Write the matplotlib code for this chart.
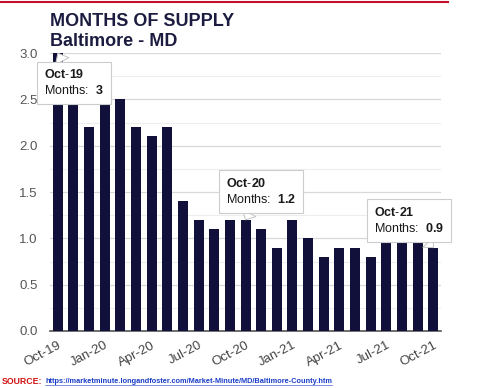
import numpy as np
import matplotlib.pyplot as plt
from matplotlib.lines import Line2D
from matplotlib.ticker import MultipleLocator

plt.rcParams['font.family'] = ['Liberation Sans', 'DejaVu Sans']
plt.rcParams['mathtext.fontset'] = 'custom'
plt.rcParams['mathtext.rm'] = 'Liberation Sans'
plt.rcParams['mathtext.bf'] = 'Liberation Sans:bold'

# monthly months-of-supply, Oct-19 .. Oct-21
months = ['Oct-19', 'Nov-19', 'Dec-19', 'Jan-20', 'Feb-20', 'Mar-20', 'Apr-20',
          'May-20', 'Jun-20', 'Jul-20', 'Aug-20', 'Sep-20', 'Oct-20', 'Nov-20',
          'Dec-20', 'Jan-21', 'Feb-21', 'Mar-21', 'Apr-21', 'May-21', 'Jun-21',
          'Jul-21', 'Aug-21', 'Sep-21', 'Oct-21']
supply = [3.0, 2.9, 2.2, 2.5, 2.5, 2.2, 2.1, 2.2, 1.4, 1.2, 1.1, 1.2, 1.2, 1.1,
          0.9, 1.2, 1.0, 0.8, 0.9, 0.9, 0.8, 1.0, 1.0, 1.0, 0.9]
callouts = ['Oct-19', 'Oct-20', 'Oct-21']

navy = '#10103a'

fig = plt.figure(figsize=(4.81, 3.88), dpi=100)
ax = fig.add_axes([0.104, 0.147, 0.813, 0.716])

x = np.arange(len(months))
ax.bar(x, supply, width=0.64, color=navy, zorder=3)

ax.set_xlim(-0.5, len(months) - 0.5)
ax.set_ylim(0, 3.0)
ax.yaxis.set_major_locator(MultipleLocator(0.5))
ax.yaxis.set_minor_locator(MultipleLocator(0.25))
ax.yaxis.set_major_formatter(plt.FormatStrFormatter('%.1f'))
ax.grid(axis='y', which='major', color='#d8d8d8', lw=0.9, zorder=0)
ax.grid(axis='y', which='minor', color='#ededed', lw=0.8, zorder=0)
ax.set_xticks(x[::3])
ax.set_xticklabels(months[::3], rotation=28, ha='right', rotation_mode='anchor',
                   fontsize=9.5, color='#444444')
ax.tick_params(axis='y', labelsize=9.5, colors='#555555', length=0, pad=9)
ax.tick_params(axis='x', length=0, pad=6)
ax.tick_params(axis='y', which='minor', length=0)
for s in ['top', 'right', 'left']:
    ax.spines[s].set_visible(False)
ax.spines['bottom'].set_color('#555555')
ax.spines['bottom'].set_linewidth(1.2)

# tooltip callouts
offsets = {'Oct-19': (-10, -11), 'Oct-20': (-14, 31), 'Oct-21': (-43, 30)}
for lab in callouts:
    i = months.index(lab)
    v = supply[i]
    mon, yr = lab.split('-')
    txt = '$\\mathbf{%s}$-$\\mathbf{%s}$\nMonths:  $\\mathbf{%g}$' % (mon, yr, v)
    dx, dy = offsets[lab]
    ax.annotate(txt, xy=(i, v), xytext=(dx, dy),
                textcoords='offset points', ha='left', va='top', fontsize=9,
                color='#1a1a1a', linespacing=1.3, annotation_clip=False, zorder=6,
                bbox=dict(boxstyle='square,pad=0.55', fc='white', ec='#cccccc', lw=0.8),
                arrowprops=dict(arrowstyle='wedge,tail_width=1.2', fc='white',
                                ec='#c4c4c4', lw=0.7, shrinkA=0, shrinkB=0))

# header
fig.add_artist(Line2D([0, 0.932], [0.996, 0.996], color='#c0102a', lw=1.5))
fig.text(0.104, 0.945, 'MONTHS OF SUPPLY', fontsize=13, fontweight='bold',
         color='#1c1c40', va='center')
fig.text(0.104, 0.894, 'Baltimore - MD', fontsize=13, fontweight='bold',
         color='#1c1c40', va='center')

# source line
fig.text(0.004, 0.016, 'SOURCE:', fontsize=6.3, fontweight='bold',
         color='#d01010', va='center')
url = fig.text(0.094, 0.016,
               'https://marketminute.longandfoster.com/Market-Minute/MD/Baltimore-County.htm',
               fontsize=5.3, fontweight='bold', color='#1a3cc8', va='center')
fig.canvas.draw()
bb = url.get_window_extent().transformed(fig.transFigure.inverted())
fig.add_artist(Line2D([bb.x0, bb.x1], [bb.y0 + 0.001, bb.y0 + 0.001],
                      color='#1a3cc8', lw=0.4))

fig.savefig('out.png', dpi=100)
